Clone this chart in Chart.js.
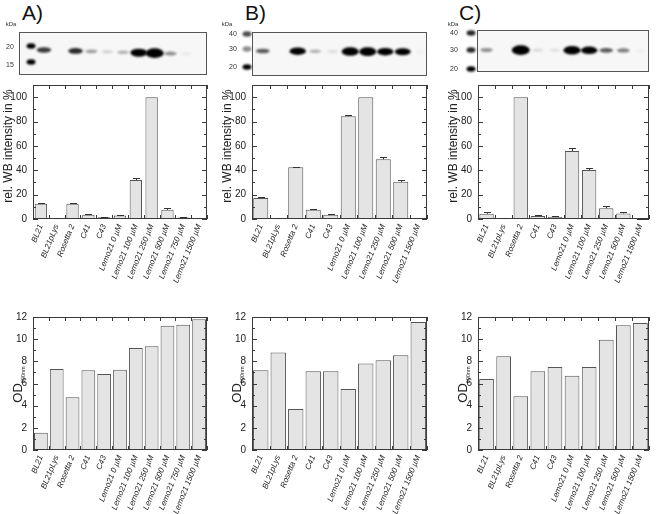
<!DOCTYPE html>
<html>
<head>
<meta charset="utf-8">
<script src="https://cdn.jsdelivr.net/npm/chart.js@4.4.1/dist/chart.umd.min.js"></script>
<style>
  body { margin: 0; width: 656px; height: 514px; position: relative; overflow: hidden; background: #fff;
         font-family: "Liberation Sans", Arial, sans-serif; }
  canvas { position: absolute; }
  .panel { position: absolute; font-size: 21px; line-height: 21px; color: #111; }
</style>
</head>
<body>
<div class="panel" style="left:22px;top:2px">A)</div>
<div class="panel" style="left:245px;top:2px">B)</div>
<div class="panel" style="left:459px;top:2px">C)</div>

<canvas id="wbA" width="218" height="290" style="left:0;top:0"></canvas>
<canvas id="wbB" width="218" height="290" style="left:219px;top:0"></canvas>
<canvas id="wbC" width="211" height="290" style="left:445px;top:0"></canvas>
<canvas id="odA" width="218" height="224" style="left:0;top:290px"></canvas>
<canvas id="odB" width="218" height="224" style="left:219px;top:290px"></canvas>
<canvas id="odC" width="211" height="224" style="left:445px;top:290px"></canvas>

<script>
// ---- data ----
const strainsA = ['BL21', 'BL21pLys', 'Rosetta 2', 'C41', 'C43', 'Lemo21 0 µM', 'Lemo21 100 µM',
                  'Lemo21 250 µM', 'Lemo21 500 µM', 'Lemo21 750 µM', 'Lemo21 1500 µM'];
const strainsBC = ['BL21', 'BL21pLys', 'Rosetta 2', 'C41', 'C43', 'Lemo21 0 µM', 'Lemo21 100 µM',
                   'Lemo21 250 µM', 'Lemo21 500 µM', 'Lemo21 1500 µM'];

const wbA    = [12.5, 0.4, 12.5, 3.5, 1.5, 2.8, 32, 100, 7.5, 1.2, 0.8];
const wbErrA = [0.5, 0.2, 0.6, 0.3, 0.3, 0.4, 1.6, 0, 1.2, 0.3, 0.2];
const wbB    = [17.2, 0.8, 42.5, 7.5, 3.5, 84.3, 100, 49, 30.5, 0.6];
const wbErrB = [0.8, 0.2, 0.5, 0.5, 0.3, 0.8, 0, 2.2, 1.5, 0.1];
const wbC    = [4.3, 0.8, 100, 2.5, 1.8, 55.8, 40.3, 8.8, 4.6, 0.3];
const wbErrC = [1.1, 0.2, 0, 0.5, 0.5, 2.1, 1.7, 1.9, 1.1, 0.1];

const odA = [1.55, 7.3, 4.75, 7.2, 6.85, 7.25, 9.2, 9.35, 11.2, 11.3, 11.8];
const odB = [7.2, 8.8, 3.7, 7.1, 7.1, 5.5, 7.8, 8.1, 8.55, 11.55];
const odC = [6.4, 8.45, 4.85, 7.1, 7.5, 6.7, 7.5, 9.95, 11.25, 11.45];

// western blot band strengths per lane (0..1)
const blotA = [0.55, 0, 0.6, 0.25, 0.1, 0.2, 0.85, 1.0, 0.3, 0.04, 0];
const blotB = [0.45, 0, 0.8, 0.2, 0.07, 0.9, 0.9, 0.8, 0.75, 0.02];
const blotC = [0.3, 0, 1.0, 0.08, 0.06, 0.9, 0.8, 0.45, 0.35, 0.02];
const kdaA = ['20', '15'];
const kdaBC = ['40', '30', '20'];

const wbTicks = [0, 20, 40, 60, 80, 100];
const odTicks = [0, 2, 4, 6, 8, 10, 12];

const FONT = '"Liberation Sans", Arial, sans-serif';

// frame with inward ticks on all four sides
const framePlugin = {
  id: 'frame',
  afterDatasetsDraw(chart, args, o) {
    const { ctx, chartArea: a, scales: { x, y } } = chart;
    ctx.save();
    ctx.strokeStyle = '#3a3a3a';
    ctx.lineWidth = 1;
    ctx.beginPath();
    for (let v = 0; v <= y.max + 1e-9; v += o.minor) {
      const py = Math.round(y.getPixelForValue(v)) + 0.5;
      const len = Math.abs(v / o.major - Math.round(v / o.major)) < 1e-6 ? 5 : 3;
      ctx.moveTo(a.left, py); ctx.lineTo(a.left + len, py);
      ctx.moveTo(a.right, py); ctx.lineTo(a.right - len, py);
    }
    const n = chart.data.labels.length;
    for (let i = 0; i <= n; i++) {
      const px = Math.round(x.getPixelForValue(i - 0.5)) + 0.5;
      ctx.moveTo(px, a.top); ctx.lineTo(px, a.top + 4);
      ctx.moveTo(px, a.bottom); ctx.lineTo(px, a.bottom - 4);
    }
    ctx.stroke();
    ctx.strokeRect(Math.round(a.left) + 0.5, Math.round(a.top) + 0.5,
                   Math.round(a.right - a.left) - 1, Math.round(a.bottom - a.top) - 1);
    ctx.restore();
  }
};

// upper error bars
const errPlugin = {
  id: 'errbars',
  afterDatasetsDraw(chart, args, o) {
    if (!o.errors) return;
    const { ctx, scales: { y } } = chart;
    const vals = chart.data.datasets[0].data;
    ctx.save();
    ctx.strokeStyle = '#333';
    ctx.lineWidth = 1;
    chart.getDatasetMeta(0).data.forEach((bar, i) => {
      const e = o.errors[i];
      if (!e) return;
      const px = Math.round(bar.x) + 0.5;
      const top = Math.round(y.getPixelForValue(vals[i] + e)) + 0.5;
      const base = y.getPixelForValue(vals[i]);
      ctx.beginPath();
      ctx.moveTo(px, base); ctx.lineTo(px, top);
      ctx.moveTo(px - 3.5, top); ctx.lineTo(px + 3.5, top);
      ctx.stroke();
    });
    ctx.restore();
  }
};

// rotated y title, optional subscript
const titlePlugin = {
  id: 'ytitle',
  afterDraw(chart, args, o) {
    if (!o.text) return;
    const { ctx, chartArea: a } = chart;
    ctx.save();
    ctx.translate(a.left + o.dx, (a.top + a.bottom) / 2 + o.dy);
    ctx.rotate(-Math.PI / 2);
    ctx.fillStyle = '#222';
    ctx.textBaseline = 'alphabetic';
    ctx.font = o.size + 'px ' + FONT;
    const w1 = ctx.measureText(o.text).width;
    let w2 = 0;
    if (o.sub) { ctx.font = o.subSize + 'px ' + FONT; w2 = ctx.measureText(o.sub).width; }
    const start = -(w1 + w2) / 2;
    ctx.font = o.size + 'px ' + FONT;
    ctx.fillText(o.text, start, 0);
    if (o.sub) { ctx.font = o.subSize + 'px ' + FONT; ctx.fillText(o.sub, start + w1, 3.5); }
    ctx.restore();
  }
};

// western blot strip above the chart, lanes follow the x scale
const blotPlugin = {
  id: 'blot',
  afterDraw(chart, args, o) {
    if (!o.bands) return;
    const { ctx, chartArea: a, scales: { x } } = chart;
    const bx = a.left + o.left, bw = a.right - bx;
    ctx.save();
    ctx.fillStyle = '#f7f7f7';
    ctx.fillRect(bx, o.top, bw, o.bottom - o.top);
    ctx.filter = 'blur(1px)';
    ctx.fillStyle = '#000';
    o.bands.forEach((v, i) => {
      if (v <= 0) return;
      const cx = x.getPixelForValue(i) + o.shift;
      const cy = o.bandY + i * o.slope;
      ctx.globalAlpha = Math.min(1, v * 1.4);
      ctx.beginPath();
      ctx.ellipse(cx, cy, 5 + 4 * v, 1.7 + 3.2 * v * v, 0, 0, Math.PI * 2);
      ctx.fill();
    });
    o.markerY.forEach((my, k) => {
      ctx.globalAlpha = o.markerAlpha[k];
      ctx.beginPath();
      ctx.ellipse(a.left + o.markerX, my, 4.5, 2.8, 0, 0, Math.PI * 2);
      ctx.fill();
    });
    ctx.filter = 'none';
    ctx.globalAlpha = 1;
    ctx.strokeStyle = '#555';
    ctx.lineWidth = 1;
    ctx.strokeRect(Math.round(bx) + 0.5, o.top + 0.5, Math.round(bw) - 1, o.bottom - o.top - 1);
    ctx.fillStyle = '#333';
    ctx.textAlign = 'center';
    ctx.textBaseline = 'middle';
    ctx.font = '7px ' + FONT;
    o.labels.forEach((t, k) => ctx.fillText(t, a.left + o.labelX, o.labelY[k]));
    ctx.font = '6px ' + FONT;
    ctx.fillText('kDa', a.left + o.kdaX, 24);
    ctx.restore();
  }
};

function makeBar(id, labels, values, cfg) {
  return new Chart(document.getElementById(id), {
    type: 'bar',
    data: {
      labels: labels,
      datasets: [{
        data: values,
        backgroundColor: '#e4e4e4',
        borderColor: '#555',
        borderWidth: 1,
        barPercentage: cfg.barPct,
        categoryPercentage: 1
      }]
    },
    options: {
      responsive: false,
      animation: false,
      layout: { padding: { left: 0, top: cfg.top, right: cfg.right, bottom: 0 } },
      plugins: {
        legend: { display: false },
        tooltip: { enabled: false },
        frame: { minor: cfg.minor, major: cfg.major },
        errbars: { errors: cfg.errors },
        ytitle: cfg.title,
        blot: cfg.blot || {}
      },
      scales: {
        x: {
          offset: true,
          grid: { display: false, drawTicks: false },
          border: { display: false },
          ticks: {
            color: '#222', autoSkip: false, minRotation: 68, maxRotation: 68, padding: 4,
            font: { size: 8, style: 'italic', family: FONT }
          },
          afterFit: s => { s.height = cfg.xH; }
        },
        y: {
          min: 0,
          max: cfg.yMax,
          grid: { display: false, drawTicks: false },
          border: { display: false },
          afterBuildTicks: s => { s.ticks = cfg.ticks.map(v => ({ value: v })); },
          ticks: { color: '#222', padding: 6, font: { size: 10, family: FONT } },
          afterFit: s => { s.width = 33; }
        }
      }
    },
    plugins: [framePlugin, errPlugin, titlePlugin, blotPlugin]
  });
}

const wbTitle = { text: 'rel. WB intensity in %', size: 12, dx: -21.5, dy: -6 };
const odTitle = { text: 'OD', sub: '600nm', size: 13, subSize: 5.5, dx: -11.5, dy: 1 };

makeBar('wbA', strainsA, wbA, {
  barPct: 0.78, top: 85, right: 11, xH: 71, yMax: 110, ticks: wbTicks, minor: 10, major: 20,
  errors: wbErrA, title: wbTitle,
  blot: { bands: blotA, left: -14, top: 32, bottom: 75, bandY: 50, slope: 0.45, shift: 3,
          markerX: -2, markerY: [46, 62], markerAlpha: [1, 1], labels: kdaA, labelX: -23,
          labelY: [47, 65], kdaX: -22 }
});
makeBar('wbB', strainsBC, wbB, {
  barPct: 0.86, top: 85, right: 10, xH: 71, yMax: 110, ticks: wbTicks, minor: 10, major: 20,
  errors: wbErrB, title: wbTitle,
  blot: { bands: blotB, left: 0, top: 32, bottom: 76, bandY: 51, slope: 0.1, shift: 2,
          markerX: -5, markerY: [34, 49, 67], markerAlpha: [0.7, 0.45, 1], labels: kdaBC, labelX: -19,
          labelY: [34, 49, 67], kdaX: -25 }
});
makeBar('wbC', strainsBC, wbC, {
  barPct: 0.84, top: 85, right: 7, xH: 71, yMax: 110, ticks: wbTicks, minor: 10, major: 20,
  errors: wbErrC, title: wbTitle,
  blot: { bands: blotC, left: -1, top: 30, bottom: 72, bandY: 50, slope: 0.05, shift: 0,
          markerX: -7, markerY: [33, 50, 69], markerAlpha: [0.85, 0.85, 1], labels: kdaBC, labelX: -24,
          labelY: [33, 50, 69], kdaX: -25 }
});

makeBar('odA', strainsA, odA, {
  barPct: 0.87, top: 27, right: 11, xH: 64, yMax: 12, ticks: odTicks, minor: 1, major: 2,
  errors: null, title: odTitle
});
makeBar('odB', strainsBC, odB, {
  barPct: 0.88, top: 27, right: 10, xH: 64, yMax: 12, ticks: odTicks, minor: 1, major: 2,
  errors: null, title: odTitle
});
makeBar('odC', strainsBC, odC, {
  barPct: 0.86, top: 27, right: 7, xH: 64, yMax: 12, ticks: odTicks, minor: 1, major: 2,
  errors: null, title: odTitle
});
</script>
</body>
</html>
